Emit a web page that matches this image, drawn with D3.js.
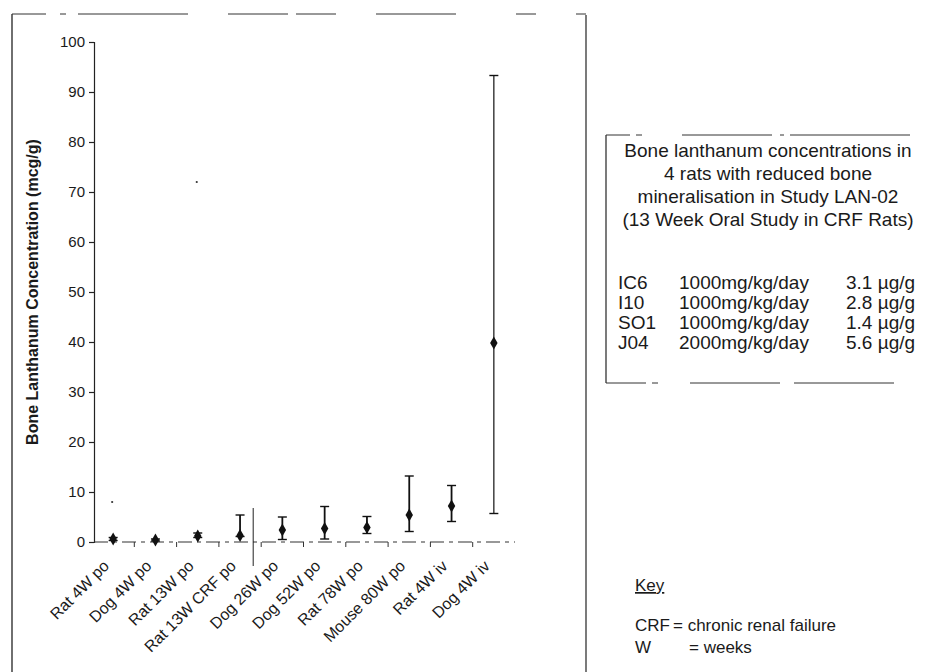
<!DOCTYPE html>
<html>
<head>
<meta charset="utf-8">
<script src="https://cdn.jsdelivr.net/npm/d3@7"></script>
<style>
  body { margin: 0; background: #fff; }
  text { font-family: "Liberation Sans", Arial, sans-serif; fill: #1a1a1a; }
</style>
</head>
<body>
<div id="chart"></div>
<script>
// data
const categories = ["Rat 4W po", "Dog 4W po", "Rat 13W po", "Rat 13W CRF po", "Dog 26W po",
  "Dog 52W po", "Rat 78W po", "Mouse 80W po", "Rat 4W iv", "Dog 4W iv"];
const means  = [0.6, 0.4, 1.2, 1.3, 2.4, 2.7, 2.9, 5.4, 7.2, 39.8];
const lowers = [0.3, 0.2, 0.9, 1.1, 0.5, 0.6, 1.7, 2.1, 4.1, 5.7];
const uppers = [0.9, 0.6, 1.8, 5.4, 5.0, 7.1, 5.1, 13.2, 11.3, 93.3];
// faded remains of error caps in the scan
const strayCats = ["Rat 4W po", "Rat 13W po"];
const strayValues = [8, 72];
const yTicks = [0, 10, 20, 30, 40, 50, 60, 70, 80, 90, 100];
const yTitle = "Bone Lanthanum Concentration (mcg/g)";

const legendTitle = [
  "Bone lanthanum concentrations in",
  "4 rats with reduced bone",
  "mineralisation in Study LAN-02",
  "(13 Week Oral Study in CRF Rats)"
];
const legendAnimals = ["IC6", "I10", "SO1", "J04"];
const legendDoses = ["1000mg/kg/day", "1000mg/kg/day", "1000mg/kg/day", "2000mg/kg/day"];
const legendConc = ["3.1 µg/g", "2.8 µg/g", "1.4 µg/g", "5.6 µg/g"];
const keyTitle = "Key";
const keyTerms = ["CRF", "W"];
const keyMeanings = ["= chronic renal failure", "= weeks"];

const width = 925, height = 672;
const plot = { left: 92, right: 515, top: 42, bottom: 542 };

const svg = d3.select("#chart").append("svg")
  .attr("width", width)
  .attr("height", height);

svg.append("rect").attr("width", width).attr("height", height).attr("fill", "#fff");

// outer frame (scanned, broken top edge)
svg.append("line").attr("x1", 12).attr("x2", 12).attr("y1", 14).attr("y2", height)
  .attr("stroke", "#222").attr("stroke-width", 1.3);
svg.append("line").attr("x1", 586).attr("x2", 586).attr("y1", 15).attr("y2", height)
  .attr("stroke", "#222").attr("stroke-width", 1.2);
svg.append("line").attr("x1", 12).attr("x2", 586).attr("y1", 14).attr("y2", 14)
  .attr("stroke", "#333").attr("stroke-width", 1)
  .attr("stroke-dasharray", "34,14,6,12,110,40,60,8,40,40,80,60,20,40");

const x = d3.scaleBand().domain(categories).range([plot.left, plot.right]);
const y = d3.scaleLinear().domain([0, 100]).range([plot.bottom, plot.top]);
const cx = c => x(c) + x.bandwidth() / 2;

// y axis
const yAxis = svg.append("g")
  .attr("transform", `translate(${plot.left + 2},0)`)
  .call(d3.axisLeft(y).tickValues(yTicks).tickSize(5).tickPadding(4));
yAxis.selectAll("path, line").attr("stroke", "#222").attr("stroke-width", 1.2);
yAxis.selectAll("text").style("font-size", "15px").style("font-family", "Liberation Sans, Arial, sans-serif").attr("fill", "#1a1a1a");

svg.append("text")
  .attr("transform", `translate(38,${(plot.top + plot.bottom) / 2}) rotate(-90)`)
  .attr("text-anchor", "middle")
  .style("font-size", "16px")
  .style("font-weight", "bold")
  .text(yTitle);

// x axis: broken baseline with ticks between categories
svg.append("line")
  .attr("x1", plot.left + 2).attr("x2", plot.right)
  .attr("y1", y(0)).attr("y2", y(0))
  .attr("stroke", "#333").attr("stroke-width", 1.1)
  .attr("stroke-dasharray", "14,5,4,5");
svg.append("g").selectAll("line")
  .data(categories.slice(1))
  .join("line")
  .attr("x1", d => x(d)).attr("x2", d => x(d))
  .attr("y1", y(0)).attr("y2", y(0) + 5)
  .attr("stroke", "#333");

svg.append("g").selectAll("text")
  .data(categories)
  .join("text")
  .attr("transform", d => `translate(${cx(d) - 3},${y(0) + 25}) rotate(-45)`)
  .attr("text-anchor", "end")
  .style("font-size", "16px")
  .text(d => d);

// stray vertical stroke in the scan
svg.append("line")
  .attr("x1", x(categories[4]) - 8).attr("x2", x(categories[4]) - 8)
  .attr("y1", y(6.8)).attr("y2", y(0) + 24)
  .attr("stroke", "#222").attr("stroke-width", 1);

// error bars
const bars = svg.append("g");
categories.forEach((c, i) => {
  const w = i === categories.length - 1 ? 1.2 : 1.8;
  bars.append("line")
    .attr("x1", cx(c)).attr("x2", cx(c))
    .attr("y1", y(lowers[i])).attr("y2", y(uppers[i]))
    .attr("stroke", "#111").attr("stroke-width", w);
  [lowers[i], uppers[i]].forEach(v => {
    bars.append("line")
      .attr("x1", cx(c) - 4.5).attr("x2", cx(c) + 4.5)
      .attr("y1", y(v)).attr("y2", y(v))
      .attr("stroke", "#111").attr("stroke-width", 1.4);
  });
});

// mean markers
svg.append("g").selectAll("path")
  .data(categories)
  .join("path")
  .attr("d", d3.symbol(d3.symbolDiamond, 48))
  .attr("transform", (d, i) => `translate(${cx(d)},${y(means[i])})`)
  .attr("fill", "#111");

svg.append("g").selectAll("circle")
  .data(strayCats)
  .join("circle")
  .attr("cx", d => cx(d) - 1)
  .attr("cy", (d, i) => y(strayValues[i]))
  .attr("r", 1.1)
  .attr("fill", "#333");

// legend box
const lg = svg.append("g");
lg.append("line").attr("x1", 606).attr("x2", 606).attr("y1", 135).attr("y2", 383)
  .attr("stroke", "#222").attr("stroke-width", 1.2);
lg.append("line").attr("x1", 606).attr("x2", width).attr("y1", 135).attr("y2", 135)
  .attr("stroke", "#333").attr("stroke-dasharray", "24,6,6,40,90,8,4,6,120");
lg.append("line").attr("x1", 606).attr("x2", width).attr("y1", 383).attr("y2", 383)
  .attr("stroke", "#333").attr("stroke-dasharray", "40,6,6,32,90,14,100");

lg.selectAll("text.title")
  .data(legendTitle)
  .join("text")
  .attr("class", "title")
  .attr("x", 768)
  .attr("y", (d, i) => 157 + i * 23)
  .attr("text-anchor", "middle")
  .style("font-size", "19px")
  .text(d => d);

const rowY = i => 289 + i * 20;
lg.selectAll("text.animal").data(legendAnimals).join("text")
  .attr("class", "animal").attr("x", 618).attr("y", (d, i) => rowY(i))
  .style("font-size", "19px").text(d => d);
lg.selectAll("text.dose").data(legendDoses).join("text")
  .attr("class", "dose").attr("x", 679).attr("y", (d, i) => rowY(i))
  .style("font-size", "19px").text(d => d);
lg.selectAll("text.conc").data(legendConc).join("text")
  .attr("class", "conc").attr("x", 846).attr("y", (d, i) => rowY(i))
  .style("font-size", "19px").text(d => d);

// key
svg.append("text")
  .attr("x", 635).attr("y", 591)
  .style("font-size", "17px")
  .style("text-decoration", "underline")
  .text(keyTitle);
const keyEqX = [673, 689];
keyTerms.forEach((t, i) => {
  svg.append("text").attr("x", 635).attr("y", 631 + i * 22)
    .style("font-size", "17px").text(t);
  svg.append("text").attr("x", keyEqX[i]).attr("y", 631 + i * 22)
    .style("font-size", "17px").text(keyMeanings[i]);
});
</script>
</body>
</html>
